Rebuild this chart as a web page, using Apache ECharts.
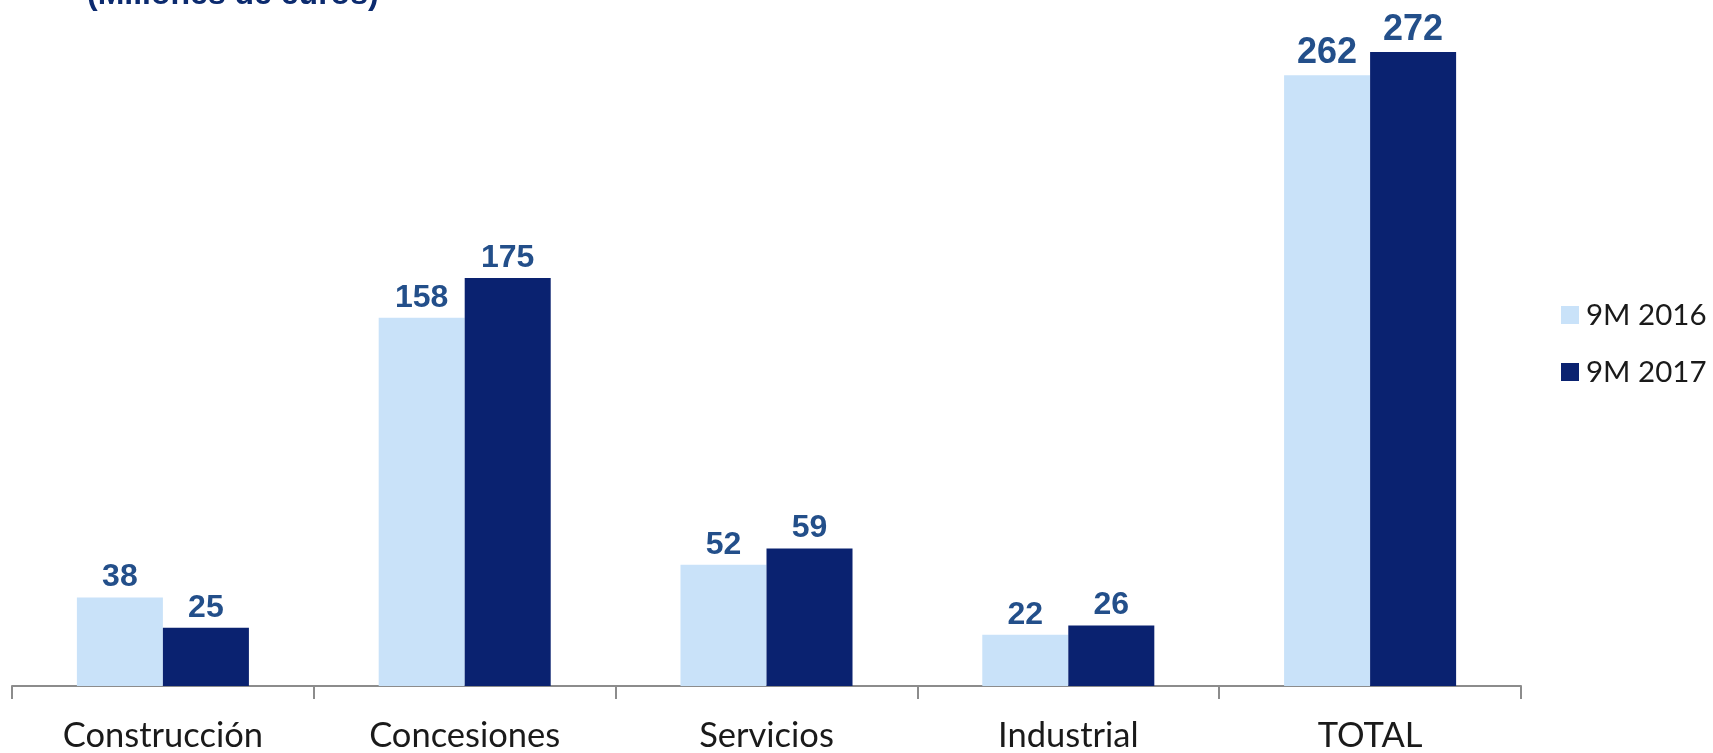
<!DOCTYPE html>
<html>
<head>
<meta charset="utf-8">
<script src="https://cdn.jsdelivr.net/npm/echarts@6/dist/echarts.min.js"></script>
<style>
  html, body { margin: 0; padding: 0; background: #ffffff; }
  #chart { width: 1713px; height: 753px; }
</style>
</head>
<body>
<div id="chart"></div>
<script>
// Segments and results (millions of euros)
const categories = ['Construcción', 'Concesiones', 'Servicios', 'Industrial', 'TOTAL'];
const values2016 = [38, 158, 52, 22, 262];
const values2017 = [25, 175, 59, 26, 272];
const seriesNames = ['9M 2016', '9M 2017'];
const unitsTitle = '(Millones de euros)';

const LIGHT = '#c9e2f9';
const DARK = '#0a2270';
const LABEL_COLOR = '#234f8a';

// Total column gets slightly larger value labels
function withLabels(values) {
  return values.map((v, i) => ({
    value: v,
    label: { fontSize: i === values.length - 1 ? 36 : 32 }
  }));
}

const labelStyle = {
  show: true,
  position: 'top',
  distance: 4,
  color: LABEL_COLOR,
  fontFamily: 'Liberation Sans, Arial, sans-serif',
  fontWeight: 'bold',
  fontSize: 32
};

const chart = echarts.init(document.getElementById('chart'), null, { renderer: 'canvas' });
chart.setOption({
  animation: false,
  backgroundColor: '#ffffff',
  grid: { left: 12, right: 192, top: 52, bottom: 64, containLabel: false },
  legend: {
    orient: 'vertical',
    left: 1556,
    top: 295,
    itemWidth: 18,
    itemHeight: 18,
    itemGap: 27,
    icon: 'rect',
    data: seriesNames,
    textStyle: { fontFamily: 'Lato, sans-serif', fontSize: 29.5, color: '#1a1a1a', padding: [0, 0, 0, 2] }
  },
  xAxis: {
    type: 'category',
    data: categories,
    axisLine: { lineStyle: { color: '#8c8c8c', width: 2 } },
    axisTick: { show: true, length: 13, lineStyle: { color: '#8c8c8c', width: 2 } },
    axisLabel: { margin: 32, fontFamily: 'Lato, sans-serif', fontSize: 34.5, color: '#1a1a1a' }
  },
  yAxis: {
    type: 'value',
    min: 0,
    max: 272,
    show: false,
    splitLine: { show: false }
  },
  series: [
    {
      name: seriesNames[0],
      type: 'bar',
      data: withLabels(values2016),
      itemStyle: { color: LIGHT },
      barGap: '0%',
      barCategoryGap: '43%',
      label: labelStyle
    },
    {
      name: seriesNames[1],
      type: 'bar',
      data: withLabels(values2017),
      itemStyle: { color: DARK },
      barGap: '0%',
      barCategoryGap: '43%',
      label: labelStyle
    }
  ],
  graphic: [
    {
      type: 'text',
      left: 87,
      top: -21,
      style: {
        text: unitsTitle,
        fill: '#0b2a6e',
        font: 'bold 32px "Liberation Sans", Arial, sans-serif'
      }
    }
  ]
});
</script>
</body>
</html>
